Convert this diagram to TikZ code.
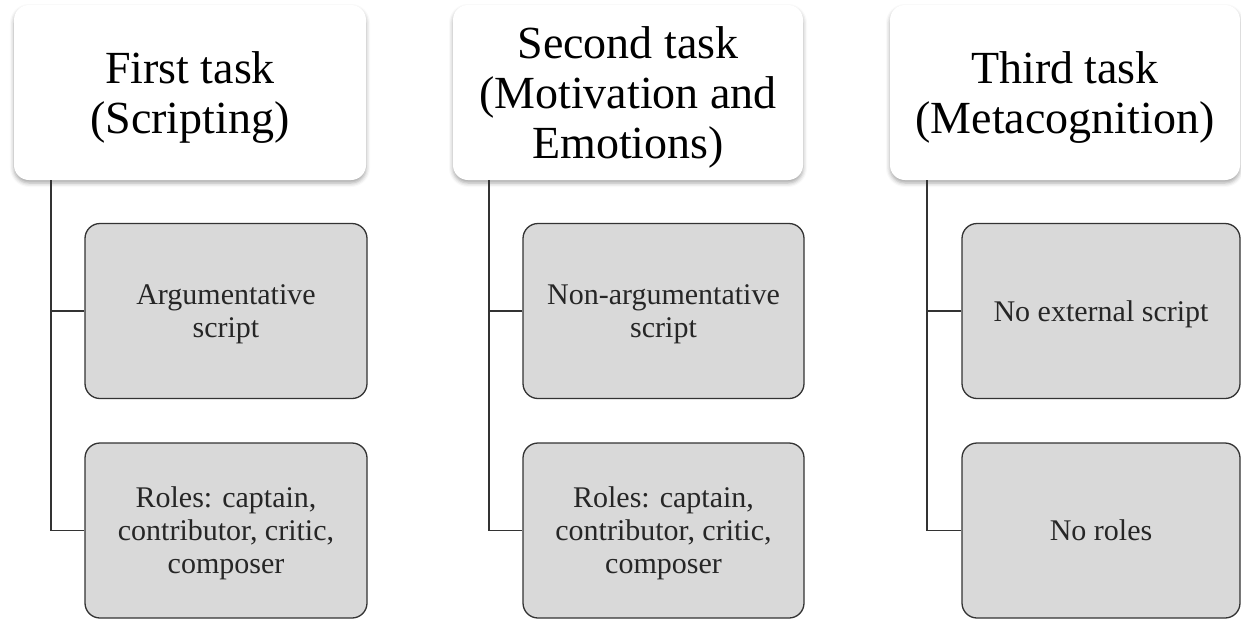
\documentclass[tikz,border=0pt]{standalone}
\usepackage{fontspec}
\setmainfont{Liberation Serif}
\usetikzlibrary{shadows.blur}
\definecolor{childfill}{HTML}{D9D9D9}
\definecolor{edgecol}{HTML}{333333}
\begin{document}
\begin{tikzpicture}[x=1pt,y=-1pt,
  header/.style={rounded corners=15pt, fill=white, inner sep=0pt,
    minimum height=175pt, align=center, text depth=0pt,
    font=\fontsize{46}{50}\selectfont,
    blur shadow={shadow xshift=0pt, shadow yshift=-3pt, shadow blur radius=4pt, shadow opacity=35}},
  child/.style={rounded corners=15pt, fill=childfill, draw=edgecol, line width=1.3pt,
    inner sep=0pt, minimum height=175pt, align=center, text=black!85, text depth=0pt,
    font=\fontsize{30}{33}\selectfont},
  conn/.style={draw=edgecol, line width=1.5pt}]
\useasboundingbox (0,0) rectangle (1241,619);
% headers
\node[header, minimum width=352pt] (h1) at (190,92.5) {First task\\(Scripting)};
\node[header, minimum width=350pt] (h2) at (628,92.5) {Second task\\(Motivation and\\Emotions)};
\node[header, minimum width=350pt] (h3) at (1065,92.5) {Third task\\(Metacognition)};
% children
\node[child, minimum width=282pt] (c11) at (226,311) {Argumentative\\script};
\node[child, minimum width=282pt] (c12) at (226,530.5) {Roles: captain,\\contributor, critic,\\composer};
\node[child, minimum width=281pt] (c21) at (663.5,311) {Non-argumentative\\script};
\node[child, minimum width=281pt] (c22) at (663.5,530.5) {Roles: captain,\\contributor, critic,\\composer};
\node[child, minimum width=278pt] (c31) at (1101,311) {No external script};
\node[child, minimum width=278pt] (c32) at (1101,530.5) {No roles};
% connectors
\coordinate (v1) at ([xshift=37pt]h1.south west);
\coordinate (v2) at ([xshift=36pt]h2.south west);
\coordinate (v3) at ([xshift=37pt]h3.south west);
\draw[conn] (v1) |- (c12.west);
\draw[conn] (c11.west) -- (v1 |- c11.west);
\draw[conn] (v2) |- (c22.west);
\draw[conn] (c21.west) -- (v2 |- c21.west);
\draw[conn] (v3) |- (c32.west);
\draw[conn] (c31.west) -- (v3 |- c31.west);
\end{tikzpicture}
\end{document}
